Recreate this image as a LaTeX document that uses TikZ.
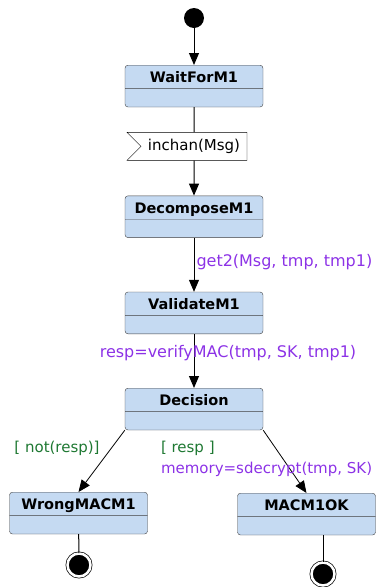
\documentclass[tikz,border=0pt]{standalone}
\usepackage{fontspec}
\setmainfont{DejaVu Sans}
\usetikzlibrary{positioning,arrows.meta,shapes.multipart,shapes.symbols}
\definecolor{stfill}{RGB}{197,218,242}
\definecolor{actcol}{RGB}{140,50,230}
\definecolor{guardcol}{RGB}{30,120,50}
\newcommand{\sttitle}[1]{\rule[-6pt]{0pt}{23pt}#1}

\begin{document}
\begin{tikzpicture}[x=1pt, y=-1pt,
    stbox/.style={rectangle split, rectangle split parts=2,
        rectangle split ignore empty parts=false,
        rectangle split empty part height=18pt,
        rectangle split empty part depth=0pt,
        draw=black!75, fill=stfill, rounded corners=3pt,
        minimum width=138pt, inner ysep=0pt, anchor=north,
        font=\fontsize{14.5}{17}\bfseries},
    sigbox/.style={signal, signal to=nowhere, signal from=west,
        signal pointer angle=90, draw=black, fill=white,
        minimum width=120pt, minimum height=28pt, inner sep=0pt,
        font=\fontsize{15}{17}\selectfont},
    trans/.style={-{Triangle[length=12pt,width=10pt]}, line width=1pt},
    link/.style={line width=1pt},
    action/.style={text=actcol, inner sep=2pt,
        font=\fontsize{16}{21}\selectfont},
    guard/.style={text=guardcol, inner sep=2pt, align=left,
        font=\fontsize{15}{21}\selectfont},
    initst/.style={circle, fill=black, minimum size=20pt, inner sep=0pt},
    finalst/.style={circle, draw=black, fill=black, double=white,
        double distance=2.5pt, line width=0.7pt, minimum size=23pt,
        inner sep=0pt},
]
\useasboundingbox (0,0) rectangle (382,587);

% States along the main column
\node[initst] (init) at (194,18) {};
\node[stbox] (wait) at (194,65) {\sttitle{WaitForM1}\nodepart{second}};
\node[sigbox, below=25pt of wait] (inchan) {inchan(Msg)};
\node[stbox, below=35pt of inchan] (decomp) {\sttitle{DecomposeM1}\nodepart{second}};
\node[stbox, below=54pt of decomp] (valid) {\sttitle{ValidateM1}\nodepart{second}};
\node[stbox, below=54pt of valid] (decision) {\sttitle{Decision}\nodepart{second}};

% The two outcomes
\node[stbox] (wrong) at (78.5,492) {\sttitle{WrongMACM1}\nodepart{second}};
\node[stbox] (macok) at (306.5,493) {\sttitle{MACM1OK}\nodepart{second}};
\node[finalst] (wrongend) at (79,565) {};
\node[finalst] (okend) at (323,574) {};

% Transitions
\draw[trans] (init) -- (wait);
\draw[link] (wait) -- (inchan);
\draw[trans] (inchan) -- (decomp);
\draw[trans] (decomp) -- node[action, anchor=west, pos=0.45]
    {get2(Msg, tmp, tmp1)} (valid);
\draw[trans] (valid) -- node[action, pos=0.35, xshift=34pt]
    {resp=verifyMAC(tmp, SK, tmp1)} (decision);
\draw[trans, line width=0.8pt] (decision.south west) -- (wrong.north);
\draw[trans, line width=0.8pt] (decision.south east) -- (macok.north);
\draw[link] (wrong) -- (wrongend);
\draw[link] (okend |- macok.south) -- (okend);

% Guards
\node[guard, below left=9pt and 23pt of decision.south west] (notresp)
    {[ not(resp)]};
\node[guard, below right=9pt and 34pt of decision.south west] (resp)
    {[ resp ]\\{\color{actcol}memory=sdecrypt(tmp, SK)}};

\end{tikzpicture}
\end{document}
